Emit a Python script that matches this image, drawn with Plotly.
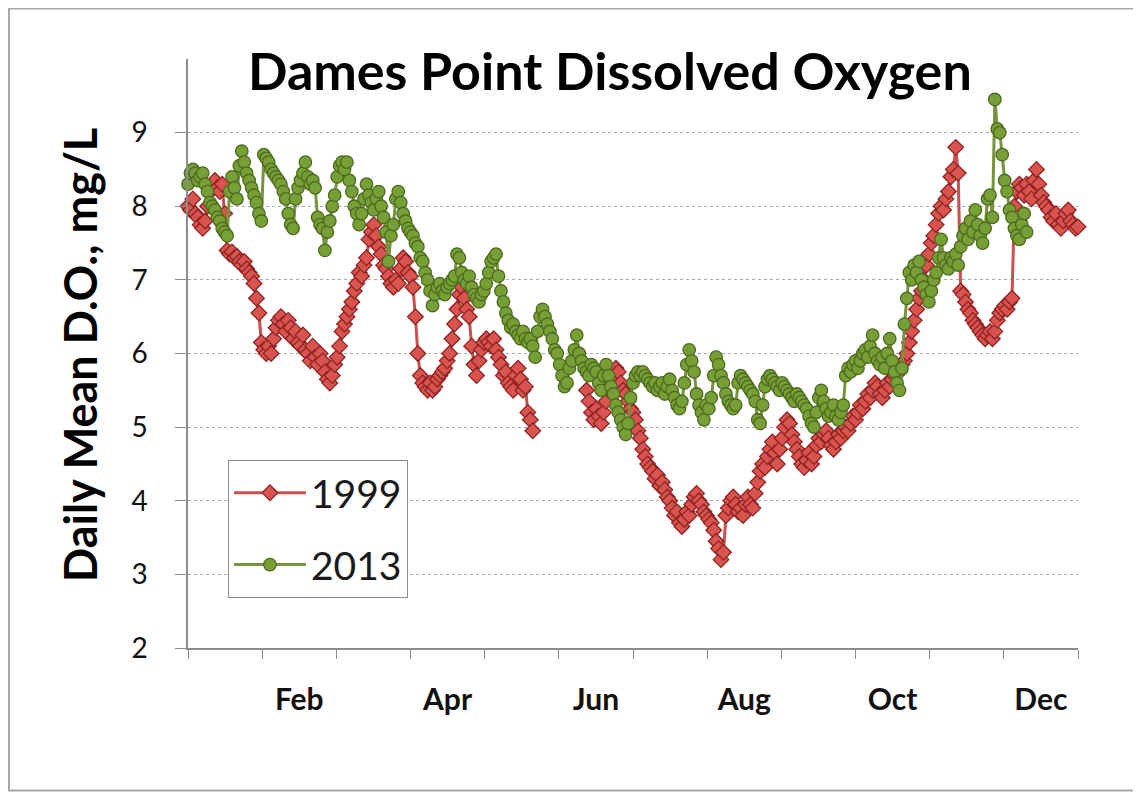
import plotly.graph_objects as go

# Daily mean dissolved oxygen (mg/L), index = day of year (0 = Jan 1)
do_1999 = [
    8.0, 7.95, 8.1, 7.9, 7.85, 7.75, 7.7, 7.8, 8.0, 8.2, 8.3, 8.35, 8.25, 8.2, 8.3, 7.9, 7.4, 7.35, 7.38, 7.3,
    7.32, 7.25, 7.2, 7.25, 7.15, 7.1, 7.05, 6.95, 6.75, 6.55, 6.15, 6.05, 6.0, 6.1, 6.0, 6.2, 6.35, 6.45, 6.5, 6.4,
    6.3, 6.45, 6.35, 6.2, 6.3, 6.15, 6.1, 6.25, 6.05, 6.0, 5.9, 6.1, 5.95, 5.85, 6.0, 5.9, 5.75, 5.65, 5.6, 5.7,
    5.85, 5.95, 6.1, 6.3, 6.4, 6.5, 6.6, 6.7, 6.85, 6.95, 7.1, 7.05, 7.2, 7.3, 7.55, 7.65, 7.75, 7.6, 7.45, 7.35,
    7.2, 7.15, 7.05, 6.95, 6.9, 7.0, 6.95, 7.15, 7.3, 7.25, 7.1, 7.05, 6.9, 6.5, 6.0, 5.7, 5.6, 5.55, 5.5, 5.6,
    5.5, 5.55, 5.65, 5.7, 5.75, 5.8, 5.9, 6.0, 6.2, 6.4, 6.6, 6.8, 6.9, 6.75, 6.6, 6.5, 6.1, 5.85, 5.7, 5.9,
    6.05, 6.15, 6.2, 6.15, 6.1, 6.2, 6.05, 5.95, 5.85, 5.7, 5.75, 5.6, 5.55, 5.5, 5.7, 5.8, 5.65, 5.5, 5.55, 5.2,
    5.1, 4.95, None, None, None, None, None, None, None, None, None, None, None, None, None, None, None, None, None, None,
    None, None, None, 5.5, 5.35, 5.2, 5.1, 5.25, 5.15, 5.05, 5.2, 5.35, 5.5, 5.6, 5.7, 5.8, 5.75, 5.6, 5.5, 5.45,
    5.35, 5.25, 5.2, 5.1, 4.95, 4.85, 4.7, 4.6, 4.5, 4.45, 4.4, 4.3, 4.35, 4.2, 4.25, 4.15, 4.05, 4.0, 3.9, 3.8,
    3.85, 3.7, 3.65, 3.75, 3.85, 3.8, 3.95, 4.05, 4.1, 4.0, 3.95, 3.85, 3.8, 3.75, 3.7, 3.6, 3.45, 3.35, 3.2, 3.3,
    3.8, 3.9, 4.0, 4.05, 3.95, 3.85, 3.9, 3.8, 3.95, 4.05, 3.95, 3.9, 4.1, 4.25, 4.4, 4.5, 4.45, 4.6, 4.7, 4.8,
    4.65, 4.5, 4.7, 4.85, 5.0, 5.1, 5.05, 4.9, 4.8, 4.7, 4.6, 4.5, 4.45, 4.55, 4.65, 4.5, 4.6, 4.75, 4.85, 4.8,
    4.9, 4.95, 4.85, 4.75, 4.7, 4.8, 4.9, 4.85, 4.95, 5.0, 4.95, 5.05, 5.15, 5.1, 5.2, 5.3, 5.25, 5.35, 5.45, 5.4,
    5.5, 5.6, 5.55, 5.45, 5.4, 5.5, 5.6, 5.55, 5.65, 5.7, 5.8, 5.75, 5.85, 5.9, 6.0, 6.15, 6.3, 6.45, 6.6, 6.75,
    6.85, 7.0, 7.2, 7.35, 7.5, 7.6, 7.75, 7.9, 8.0, 7.95, 8.1, 8.2, 8.4, 8.5, 8.8, 8.45, 6.85, 6.8, 6.7, 6.6,
    6.55, 6.45, 6.4, 6.35, 6.3, 6.25, 6.2, 6.25, 6.3, 6.2, 6.3, 6.45, 6.55, 6.6, 6.65, 6.6, 6.7, 6.75, 8.0, 8.2,
    8.3, 8.25, 8.15, 8.3, 8.2, 8.1, 8.35, 8.5, 8.3, 8.15, 8.05, 8.0, 7.95, 7.85, 7.8, 7.9, 7.75, 7.7, 7.8, 7.9,
    7.95, 7.8, 7.75, 7.7, 7.72,
]

do_2013 = [
    8.3, 8.45, 8.5, 8.45, 8.35, 8.4, 8.45, 8.3, 8.2, 8.05, 8.0, 7.95, 7.85, 7.8, 7.7, 7.65, 7.6, 8.2, 8.4, 8.25,
    8.1, 8.55, 8.75, 8.6, 8.45, 8.35, 8.25, 8.15, 8.05, 7.9, 7.8, 8.7, 8.65, 8.6, 8.5, 8.45, 8.4, 8.35, 8.3, 8.2,
    8.1, 7.9, 7.75, 7.7, 8.1, 8.25, 8.35, 8.45, 8.6, 8.4, 8.3, 8.35, 8.25, 7.85, 7.75, 7.7, 7.4, 7.65, 7.8, 8.0,
    8.15, 8.4, 8.55, 8.6, 8.5, 8.6, 8.35, 8.2, 8.0, 7.9, 7.75, 7.9, 8.1, 8.3, 8.15, 8.05, 7.95, 8.1, 8.2, 8.0,
    7.85, 7.65, 7.25, 7.6, 7.75, 8.1, 8.2, 8.05, 7.9, 7.8, 7.7, 7.65, 7.6, 7.5, 7.45, 7.3, 7.25, 7.1, 7.0, 6.85,
    6.65, 6.8, 6.9, 6.95, 6.85, 6.8, 6.9, 6.95, 7.0, 7.05, 7.35, 7.3, 7.1, 7.0, 6.95, 7.05, 6.9, 6.8, 6.75, 6.7,
    6.8, 6.85, 6.95, 7.1, 7.25, 7.3, 7.35, 7.05, 6.85, 6.7, 6.55, 6.45, 6.35, 6.4, 6.3, 6.25, 6.2, 6.3, 6.2, 6.15,
    6.2, 6.1, 5.95, 6.3, 6.5, 6.6, 6.5, 6.4, 6.3, 6.2, 6.05, 6.0, 5.85, 5.7, 5.55, 5.6, 5.8, 5.9, 6.05, 6.25,
    6.0, 5.9, 5.8, 5.75, 5.7, 5.85, 5.8, 5.75, 5.6, 5.5, 5.7, 5.85, 5.7, 5.55, 5.45, 5.3, 5.2, 5.1, 5.0, 4.9,
    5.05, 5.4, 5.6, 5.7, 5.75, 5.7, 5.75, 5.7, 5.65, 5.6, 5.55, 5.6, 5.5, 5.55, 5.6, 5.45, 5.55, 5.65, 5.5, 5.4,
    5.3, 5.25, 5.35, 5.6, 5.85, 6.05, 5.9, 5.75, 5.45, 5.3, 5.2, 5.1, 5.3, 5.25, 5.4, 5.7, 5.95, 5.85, 5.7, 5.6,
    5.45, 5.35, 5.3, 5.25, 5.3, 5.6, 5.7, 5.65, 5.6, 5.55, 5.5, 5.45, 5.35, 5.1, 5.05, 5.3, 5.55, 5.65, 5.7, 5.65,
    5.6, 5.55, 5.5, 5.6, 5.55, 5.5, 5.45, 5.4, 5.35, 5.45, 5.4, 5.35, 5.3, 5.25, 5.15, 5.05, 5.0, 5.2, 5.4, 5.5,
    5.35, 5.25, 5.15, 5.2, 5.3, 5.15, 5.1, 5.2, 5.3, 5.7, 5.8, 5.75, 5.85, 5.9, 5.8, 5.9, 6.0, 6.05, 5.95, 6.1,
    6.25, 6.0, 5.9, 5.85, 5.95, 5.8, 6.0, 6.2, 5.9, 5.75, 5.6, 5.5, 5.8, 6.4, 6.75, 7.1, 7.0, 7.2, 7.1, 7.25,
    7.0, 6.9, 6.8, 6.7, 6.85, 7.0, 7.1, 7.3, 7.55, 7.3, 7.2, 7.15, 7.3, 7.25, 7.35, 7.2, 7.45, 7.6, 7.7, 7.55,
    7.8, 7.65, 7.95, 7.75, 7.6, 7.5, 7.7, 8.1, 8.15, 7.85, 9.45, 9.05, 9.0, 8.7, 8.35, 8.2, 7.95, 7.85, 7.7, 7.6,
    7.55, 7.75, 7.9, 7.65,
]

month_labels = ["Feb", "Apr", "Jun", "Aug", "Oct", "Dec"]
y_ticks = [2, 3, 4, 5, 6, 7, 8, 9]

year_len = 364
month_len = year_len / 12
label_pos = [(2 * k + 1.5) * month_len for k in range(len(month_labels))]
month_bounds = [k * month_len for k in range(13)]

days_1999 = list(range(len(do_1999)))
days_2013 = list(range(len(do_2013)))

FONT = "Lato"
AXIS_GRAY = "#8C8C8C"

fig = go.Figure()
fig.add_trace(go.Scatter(
    x=days_1999, y=do_1999, name="1999", mode="lines+markers",
    line=dict(color="#C9504D", width=3),
    marker=dict(symbol="diamond", size=12, color="#D9534F",
                line=dict(color="#8E2424", width=1.3)),
    connectgaps=False, cliponaxis=False, legendgroup="a",
))
fig.add_trace(go.Scatter(
    x=days_2013, y=do_2013, name="2013", mode="lines+markers",
    line=dict(color="#77933C", width=3),
    marker=dict(symbol="circle", size=12.5, color="#76A036",
                line=dict(color="#4C6A1F", width=1.3)),
    cliponaxis=False, legendgroup="b",
))

fig.update_layout(
    width=1141, height=793,
    margin=dict(l=180, r=71, t=51, b=153),
    paper_bgcolor="white", plot_bgcolor="white",
    showlegend=True,
    legend=dict(
        x=0.0449, y=0.3192, xanchor="left", yanchor="top",
        bgcolor="white", bordercolor="#8C8C8C", borderwidth=1,
        font=dict(family=FONT, size=39, color="#1a1a1a"),
        tracegroupgap=18, traceorder="grouped", itemwidth=72,
    ),
    xaxis=dict(
        range=[0, year_len],
        tickmode="array", tickvals=label_pos, ticktext=month_labels,
        ticks="", showgrid=False, zeroline=False,
        showline=True, linecolor=AXIS_GRAY, linewidth=1.5,
        tickfont=dict(family=FONT, size=30, color="#111111", weight="bold"),
        ticklabelstandoff=24,
        minor=dict(tickmode="array", tickvals=month_bounds, ticks="outside",
                   ticklen=9, tickcolor=AXIS_GRAY, tickwidth=1.2, showgrid=False),
    ),
    yaxis=dict(
        range=[2, 10],
        tickmode="array", tickvals=y_ticks,
        ticks="outside", ticklen=11, tickcolor=AXIS_GRAY, tickwidth=1.2,
        showgrid=True, gridcolor="#A8A8A8", griddash="dot", gridwidth=1,
        zeroline=False,
        showline=True, linecolor=AXIS_GRAY, linewidth=1.5,
        tickfont=dict(family=FONT, size=28, color="#111111"),
        ticklabelstandoff=22,
    ),
    annotations=[
        dict(text="<b>Dames Point Dissolved Oxygen</b>", xref="paper", yref="paper",
             x=0.474, y=0.981, xanchor="center", yanchor="middle", showarrow=False,
             font=dict(family=FONT, size=52, color="black")),
        dict(text="<b>Daily Mean D.O., mg/L</b>", xref="paper", yref="paper",
             x=-0.1213, y=0.4975, xanchor="center", yanchor="middle", showarrow=False,
             textangle=-90, font=dict(family=FONT, size=45, color="black")),
    ],
    shapes=[
        dict(type="rect", xref="paper", yref="paper",
             x0=-0.2011, x1=1.0674, y0=-0.2419, y1=1.0857,
             line=dict(color="#A6A6A6", width=2), fillcolor="rgba(0,0,0,0)", layer="below"),
    ],
)

fig.write_html("out.html")
